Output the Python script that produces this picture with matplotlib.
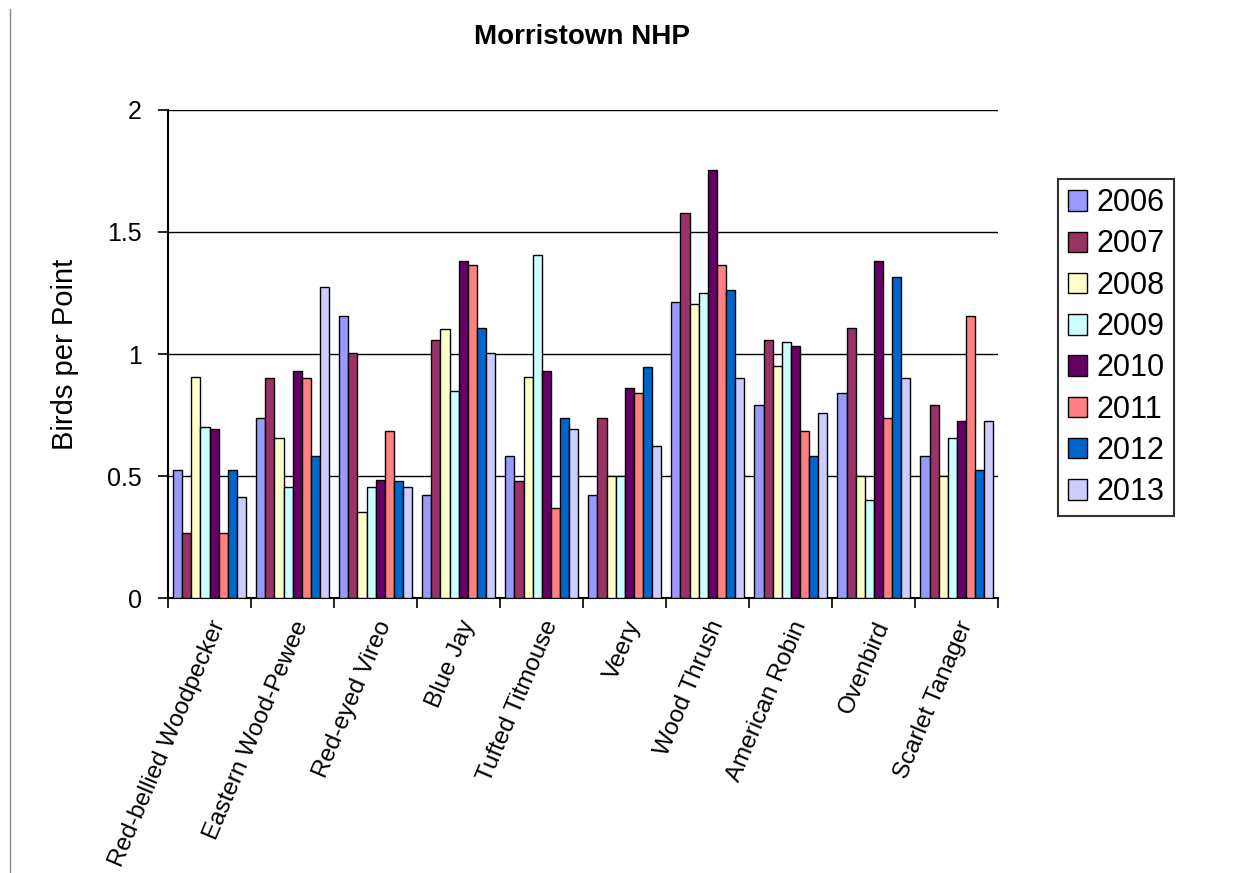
import matplotlib.pyplot as plt
import numpy as np

plt.rcParams['font.family'] = ['Liberation Sans', 'DejaVu Sans']

species = ["Red-bellied Woodpecker", "Eastern Wood-Pewee", "Red-eyed Vireo", "Blue Jay",
           "Tufted Titmouse", "Veery", "Wood Thrush", "American Robin", "Ovenbird",
           "Scarlet Tanager"]
years = ["2006", "2007", "2008", "2009", "2010", "2011", "2012", "2013"]

y2006 = [0.525, 0.738, 1.157, 0.422, 0.582, 0.422, 1.212, 0.791, 0.842, 0.582]
y2007 = [0.265, 0.902, 1.003, 1.057, 0.478, 0.738, 1.578, 1.057, 1.107, 0.791]
y2008 = [0.907, 0.654, 0.351, 1.101, 0.907, 0.499, 1.205, 0.952, 0.499, 0.499]
y2009 = [0.700, 0.454, 0.454, 0.847, 1.406, 0.499, 1.250, 1.048, 0.402, 0.654]
y2010 = [0.693, 0.932, 0.485, 1.380, 0.932, 0.861, 1.754, 1.034, 1.380, 0.727]
y2011 = [0.265, 0.902, 0.686, 1.366, 0.369, 0.840, 1.366, 0.686, 0.738, 1.157]
y2012 = [0.525, 0.583, 0.478, 1.107, 0.738, 0.945, 1.262, 0.582, 1.314, 0.525]
y2013 = [0.415, 1.276, 0.454, 1.003, 0.693, 0.622, 0.902, 0.758, 0.902, 0.727]
series = [y2006, y2007, y2008, y2009, y2010, y2011, y2012, y2013]

colors = ["#9999FF", "#993366", "#FFFFCC", "#CCFFFF", "#660066", "#FF8080", "#0066CC", "#CCCCFF"]

fig = plt.figure(figsize=(12.54, 8.73), dpi=100)
ax = fig.add_axes([0.134, 0.315, 0.662, 0.559])

x = np.arange(len(species))
w = 0.109
for j, vals in enumerate(series):
    ax.bar(x + (j - 3.5) * w, vals, w, color=colors[j], edgecolor="black",
           linewidth=1.0, label=years[j], zorder=3)

ax.set_xlim(-0.5, len(species) - 0.5)
ax.set_ylim(0, 2)
ax.set_yticks([0, 0.5, 1, 1.5, 2])
ax.set_yticklabels(["0", "0.5", "1", "1.5", "2"])
ax.yaxis.grid(True, color="black", linewidth=1.0, zorder=0)
ax.tick_params(axis="y", labelsize=18, length=7, width=1.2, direction="out", pad=12)

ax.set_xticks(x)
ax.set_xticklabels(species, rotation=67, ha="right", rotation_mode="anchor", fontsize=17.5)
ax.set_xticks(np.arange(-0.5, len(species)), minor=True)
ax.tick_params(axis="x", which="major", length=0, pad=14)
ax.tick_params(axis="x", which="minor", length=7, width=1.2, direction="out")

for s in ["top", "right"]:
    ax.spines[s].set_visible(False)
ax.spines["left"].set_linewidth(1.5)
ax.spines["bottom"].set_linewidth(1.5)

ax.set_ylabel("Birds per Point", fontsize=21)
ax.yaxis.set_label_coords(-0.107, 0.5)
fig.text(0.464, 0.958, "Morristown NHP", ha="center", va="center",
         fontsize=20, fontweight="bold")

leg = fig.legend(loc="upper left", bbox_to_anchor=(0.844, 0.795), fontsize=22,
                 frameon=True, fancybox=False, edgecolor="black", borderaxespad=0,
                 handlelength=0.65, handleheight=0.65, handletextpad=0.3,
                 labelspacing=0.37, borderpad=0.3)
leg.get_frame().set_linewidth(1.5)

fig.add_artist(plt.Line2D([0.008, 0.008], [0.0, 0.99], color="#888888", linewidth=1.0))

fig.savefig("out.png", dpi=100)
